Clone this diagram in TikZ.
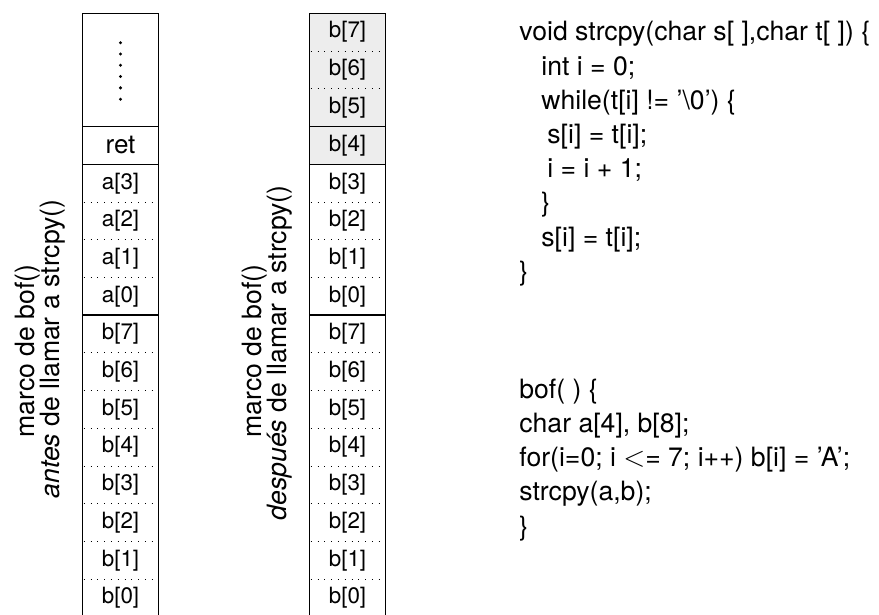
\documentclass[tikz,border=0pt]{standalone}
\usepackage{fontspec}
\setmainfont{TeX Gyre Heros}
\definecolor{cellgray}{RGB}{237,237,237}
\tikzset{
  cell/.style={inner sep=0pt, font=\fontsize{11.2}{13}\selectfont},
  bigcell/.style={inner sep=0pt, font=\fontsize{13}{15}\selectfont},
  code/.style={anchor=base west, inner sep=0pt, font=\fontsize{13.3}{16}\selectfont},
  lbl/.style={anchor=base, rotate=90, inner sep=0pt, font=\fontsize{13.3}{16}\selectfont},
  sep/.style={line width=0.75pt},
  side/.style={line width=0.45pt},
  dotsep/.style={line width=0.5pt, dash pattern=on 0.5pt off 2.9pt},
}
\begin{document}
\begin{tikzpicture}[x=0.5pt,y=-0.5pt]
\useasboundingbox (0,0) rectangle (879,615);
\def\La{82.7}\def\Lb{158.3}
\def\Ra{309.7}\def\Rb{385.3}
\def\T{13.3}\def\H{37.7}
% shading of overwritten cells in right column
\fill[cellgray] (\Ra,\T) rectangle (\Rb,164.4);
% sides
\draw[side] (\La,\T) -- (\La,620);
\draw[side] (\Lb,\T) -- (\Lb,620);
\draw[side] (\Ra,\T) -- (\Ra,620);
\draw[side] (\Rb,\T) -- (\Rb,620);
% top and solid separators
\foreach \y in {13.3,126.7,164.4,315.2}{
  \draw[sep] (\La,\y) -- (\Lb,\y);
  \draw[sep] (\Ra,\y) -- (\Rb,\y);
}
% dotted separators
\foreach \k in {2,3,4,6,7,8,9,10,11,12}{
  \pgfmathsetmacro\yy{126.7+\H*\k}
  \draw[dotsep] (\La+1,\yy) -- (\Lb-1,\yy);
  \draw[dotsep] (\Ra+1,\yy) -- (\Rb-1,\yy);
}
\foreach \y in {51.1,88.9}{
  \draw[dotsep] (\Ra+1,\y) -- (\Rb-1,\y);
}
% vertical dots
\foreach \i in {0,...,5}{
  \fill (120.5,42.7+11.3*\i) circle (1.65);
}
% left column labels
\node[bigcell] (lret) at (120.5,145.5) {ret};
\foreach \t [count=\k from 1] in {a[3],a[2],a[1],a[0],b[7],b[6],b[5],b[4],b[3],b[2],b[1],b[0]}{
  \node[cell] (l\k) at (120.5,126.7+\H*\k+\H/2) {\t};
}
% right column labels
\node[cell] (rt7) at (347.5,32.2) {b[7]};
\node[cell] (rt6) at (347.5,70.0) {b[6]};
\node[cell] (rt5) at (347.5,107.8) {b[5]};
\node[cell] (rt4) at (347.5,145.5) {b[4]};
\foreach \t [count=\k from 1] in {b[3],b[2],b[1],b[0],b[7],b[6],b[5],b[4],b[3],b[2],b[1],b[0]}{
  \node[cell] (r\k) at (347.5,126.7+\H*\k+\H/2) {\t};
}
% rotated frame labels
\node[lbl] (la1) at (34.5,351) {marco de bof()};
\node[lbl] (la2) at (59.4,349) {\textit{antes} de llamar a strcpy()};
\node[lbl] (lb1) at (261.4,351) {marco de bof()};
\node[lbl] (lb2) at (286.4,353) {\textit{después} de llamar a strcpy()};
% code, strcpy
\node[code] (c1) at (519,41) {void strcpy(char s[\ ],char t[\ ]) \{};
\node[code] (c2) at (541,75.2) {int i = 0;};
\node[code] (c3) at (541,109.4) {while(t[i] != '\textbackslash0') \{};
\node[code] (c4) at (547,143.6) {s[i] = t[i];};
\node[code] (c5) at (547,177.8) {i = i + 1;};
\node[code] (c6) at (541,212) {\}};
\node[code] (c7) at (541,246.2) {s[i] = t[i];};
\node[code] (c8) at (519,280.4) {\}};
% code, bof
\node[code] (d1) at (519,398) {bof( ) \{};
\node[code] (d2) at (519,432.3) {char a[4], b[8];};
\node[code] (d3) at (519,466.6) {for(i=0; i \(<\)= 7; i++) b[i] = 'A';};
\node[code] (d4) at (519,500.9) {strcpy(a,b);};
\node[code] (d5) at (519,535.2) {\}};
\end{tikzpicture}
\end{document}
